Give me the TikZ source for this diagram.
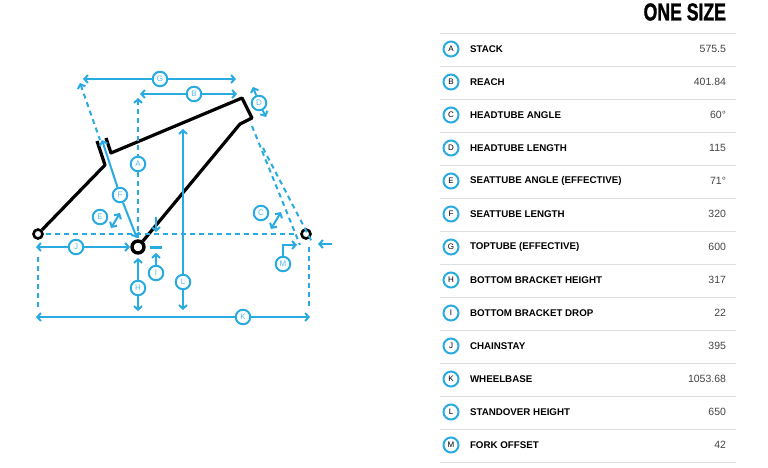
\documentclass[tikz,border=0pt]{standalone}
\usepackage{fontspec}
\setmainfont{Liberation Sans}
\newfontfamily\titlefont[FakeStretch=0.72,FakeBold=1.2]{Liberation Sans}
\usetikzlibrary{arrows.meta}
\definecolor{geoblue}{HTML}{29ABE2}
\definecolor{rulegrey}{HTML}{DEDEDE}
\definecolor{valgrey}{HTML}{444444}

\begin{document}
\begin{tikzpicture}[
    x=1pt,y=-1pt,
    bikeframe/.style={draw=black,line width=3.2pt,line join=round},
    axle/.style={circle,draw=black,fill=white,inner sep=0pt},
    dim/.style={draw=geoblue,line width=2pt,-{Straight Barb[length=3.6pt,width=8pt]}},
    twodim/.style={draw=geoblue,line width=2pt,{Straight Barb[length=3.6pt,width=8pt]}-{Straight Barb[length=3.6pt,width=8pt]}},
    guide/.style={draw=geoblue,line width=2pt,dash pattern=on 5pt off 4pt},
    tag/.style={circle,draw=geoblue,fill=white,line width=2pt,minimum size=14.5pt,inner sep=0pt,font=\fontsize{8}{8}\selectfont,text=geoblue!80!white},
    keytag/.style={circle,draw=geoblue,fill=white,line width=2pt,minimum size=15pt,inner sep=0pt,font=\fontsize{8}{8}\selectfont,text=black},
    rowname/.style={anchor=west,font=\fontsize{9.75}{12}\selectfont\bfseries,text=black},
    rowval/.style={anchor=east,font=\fontsize{10.5}{12}\selectfont,text=valgrey},
    rowrule/.style={draw=rulegrey,line width=0.9pt}
  ]
    \useasboundingbox (0,0) rectangle (768,468);

    % Geometry points
    \coordinate (gLeft) at (83,79);
    \coordinate (gRight) at (236,79);
    \coordinate (gTop) at (80,83);
    \coordinate (gLow) at (100,140);
    \coordinate (bLeft) at (140,94);
    \coordinate (bRight) at (237,94);
    \coordinate (aTop) at (138,98);
    \coordinate (aLow) at (138,238);
    \coordinate (fTop) at (102,140);
    \coordinate (fLow) at (137,238);
    \coordinate (dTop) at (253,87);
    \coordinate (dLow) at (266,117);
    \coordinate (eLow) at (111,228);
    \coordinate (eTop) at (120,213);
    \coordinate (cLow) at (271,229);
    \coordinate (cTop) at (281,212);
    \coordinate (jLeft) at (36,247);
    \coordinate (jRight) at (130,247);
    \coordinate (kLeft) at (36,317);
    \coordinate (kRight) at (310,317);
    \coordinate (lTop) at (183,129);
    \coordinate (lLow) at (183,310);
    \coordinate (hTop) at (138,258);
    \coordinate (hLow) at (138,311);
    \coordinate (iTop) at (156,253);
    \coordinate (iUp) at (156,217);
    \coordinate (iDown) at (156,232);
    \coordinate (iBarL) at (150,247.5);
    \coordinate (iBarR) at (162,247.5);
    \coordinate (mBend) at (283,245);
    \coordinate (mTip) at (297,245);
    \coordinate (arrowFrom) at (332,244);
    \coordinate (arrowTo) at (318,244);
    \coordinate (axisLeft) at (46,234);
    \coordinate (axisRight) at (297,234);
    \coordinate (rearDropA) at (38,257);
    \coordinate (rearDropB) at (38,310);
    \coordinate (frontDropA) at (309,247);
    \coordinate (frontDropB) at (309,308);
    \coordinate (forkA) at (252,126);
    \coordinate (forkB) at (300,245);
    \coordinate (forkC) at (263,148);
    \coordinate (forkD) at (312,242);

    % Frame
    \coordinate (seatKnee) at (105,165);
    \coordinate (seatTop) at (97,141);
    \coordinate (topStart) at (106,138);
    \coordinate (topKnee) at (111,153);
    \coordinate (headTop) at (242,98);
    \coordinate (headLow) at (252,118);
    \coordinate (downKnee) at (240,124);
    \node[axle,line width=2.6pt,minimum size=9pt] (rear) at (38,234) {};
    \node[axle,line width=3.4pt,minimum size=12pt] (bb) at (138,247) {};
    \node[axle,line width=2.6pt,minimum size=9pt] (front) at (306,234) {};
    \draw[bikeframe] (rear) -- (seatKnee) -- (seatTop);
    \draw[bikeframe] (topStart) -- (topKnee) -- (headTop) -- (headLow) -- (downKnee) -- (bb);

    % Dashed guides
    \draw[guide] (axisLeft) -- (axisRight);
    \draw[guide] (rearDropA) -- (rearDropB);
    \draw[guide] (frontDropA) -- (frontDropB);
    \draw[guide] (forkA) -- (forkB);
    \draw[guide] (forkC) -- (forkD);
    \draw[guide,{Straight Barb[length=3.6pt,width=8pt]}-] (gTop) -- (gLow);
    \draw[guide,{Straight Barb[length=3.6pt,width=8pt]}-] (aTop) -- (aLow);

    % Dimension tags
    \node[tag] (tagG) at (160,79) {G};
    \node[tag] (tagB) at (194,94) {B};
    \node[tag] (tagA) at (138,164) {A};
    \node[tag] (tagF) at (120,195) {F};
    \node[tag] (tagD) at (259,103) {D};
    \node[tag] (tagE) at (100,217) {E};
    \node[tag] (tagC) at (261,213) {C};
    \node[tag] (tagJ) at (76,247) {J};
    \node[tag] (tagK) at (243,317) {K};
    \node[tag] (tagL) at (183,282) {L};
    \node[tag] (tagH) at (138,288) {H};
    \node[tag] (tagI) at (156,273) {I};
    \node[tag] (tagM) at (283,264) {M};

    % Dimension arrows
    \draw[dim] (tagG) -- (gLeft);
    \draw[dim] (tagG) -- (gRight);
    \draw[dim] (tagB) -- (bLeft);
    \draw[dim] (tagB) -- (bRight);
    \draw[dim] (tagF) -- (fTop);
    \draw[dim] (tagF) -- (fLow);
    \draw[dim] (tagD) -- (dTop);
    \draw[dim] (tagD) -- (dLow);
    \draw[twodim] (eLow) -- (eTop);
    \draw[twodim] (cLow) -- (cTop);
    \draw[dim] (tagJ) -- (jLeft);
    \draw[dim] (tagJ) -- (jRight);
    \draw[dim] (tagK) -- (kLeft);
    \draw[dim] (tagK) -- (kRight);
    \draw[dim] (tagL) -- (lTop);
    \draw[dim] (tagL) -- (lLow);
    \draw[dim] (tagH) -- (hTop);
    \draw[dim] (tagH) -- (hLow);
    \draw[dim] (tagI) -- (iTop);
    \draw[dim] (iUp) -- (iDown);
    \draw[geoblue,line width=2.6pt] (iBarL) -- (iBarR);
    \draw[dim] (tagM) -- (mBend) -- (mTip);
    \draw[dim] (arrowFrom) -- (arrowTo);

    % Table
    \node[anchor=east,font=\titlefont\fontsize{24.5}{28}\selectfont\bfseries] (title) at (729.5,12) {ONE SIZE};
    \draw[rowrule] (440,33.5) -- (736,33.5);
    \draw[rowrule] (440,66.5) -- (736,66.5);
    \draw[rowrule] (440,99.5) -- (736,99.5);
    \draw[rowrule] (440,132.5) -- (736,132.5);
    \draw[rowrule] (440,165.5) -- (736,165.5);
    \draw[rowrule] (440,198.5) -- (736,198.5);
    \draw[rowrule] (440,231.5) -- (736,231.5);
    \draw[rowrule] (440,264.5) -- (736,264.5);
    \draw[rowrule] (440,297.5) -- (736,297.5);
    \draw[rowrule] (440,330.5) -- (736,330.5);
    \draw[rowrule] (440,363.5) -- (736,363.5);
    \draw[rowrule] (440,396.5) -- (736,396.5);
    \draw[rowrule] (440,429.5) -- (736,429.5);
    \draw[rowrule] (440,462.5) -- (736,462.5);

    \node[keytag] (keyA) at (451,49) {A};
    \node[rowname] (nameA) at (466.5,49) {STACK};
    \node[rowval] (valA) at (729.5,49) {575.5};
    \node[keytag] (keyB) at (451,82) {B};
    \node[rowname] (nameB) at (466.5,82) {REACH};
    \node[rowval] (valB) at (729.5,82) {401.84};
    \node[keytag] (keyC) at (451,115) {C};
    \node[rowname] (nameC) at (466.5,115) {HEADTUBE ANGLE};
    \node[rowval] (valC) at (729.5,115) {60°};
    \node[keytag] (keyD) at (451,148) {D};
    \node[rowname] (nameD) at (466.5,148) {HEADTUBE LENGTH};
    \node[rowval] (valD) at (729.5,148) {115};
    \node[keytag] (keyE) at (451,181) {E};
    \node[rowname] (nameE) at (466.5,181) {SEATTUBE ANGLE (EFFECTIVE)};
    \node[rowval] (valE) at (729.5,181) {71°};
    \node[keytag] (keyF) at (451,214) {F};
    \node[rowname] (nameF) at (466.5,214) {SEATTUBE LENGTH};
    \node[rowval] (valF) at (729.5,214) {320};
    \node[keytag] (keyG) at (451,247) {G};
    \node[rowname] (nameG) at (466.5,247) {TOPTUBE (EFFECTIVE)};
    \node[rowval] (valG) at (729.5,247) {600};
    \node[keytag] (keyH) at (451,280) {H};
    \node[rowname] (nameH) at (466.5,280) {BOTTOM BRACKET HEIGHT};
    \node[rowval] (valH) at (729.5,280) {317};
    \node[keytag] (keyI) at (451,313) {I};
    \node[rowname] (nameI) at (466.5,313) {BOTTOM BRACKET DROP};
    \node[rowval] (valI) at (729.5,313) {22};
    \node[keytag] (keyJ) at (451,346) {J};
    \node[rowname] (nameJ) at (466.5,346) {CHAINSTAY};
    \node[rowval] (valJ) at (729.5,346) {395};
    \node[keytag] (keyK) at (451,379) {K};
    \node[rowname] (nameK) at (466.5,379) {WHEELBASE};
    \node[rowval] (valK) at (729.5,379) {1053.68};
    \node[keytag] (keyL) at (451,412) {L};
    \node[rowname] (nameL) at (466.5,412) {STANDOVER HEIGHT};
    \node[rowval] (valL) at (729.5,412) {650};
    \node[keytag] (keyM) at (451,445) {M};
    \node[rowname] (nameM) at (466.5,445) {FORK OFFSET};
    \node[rowval] (valM) at (729.5,445) {42};
\end{tikzpicture}
\end{document}
